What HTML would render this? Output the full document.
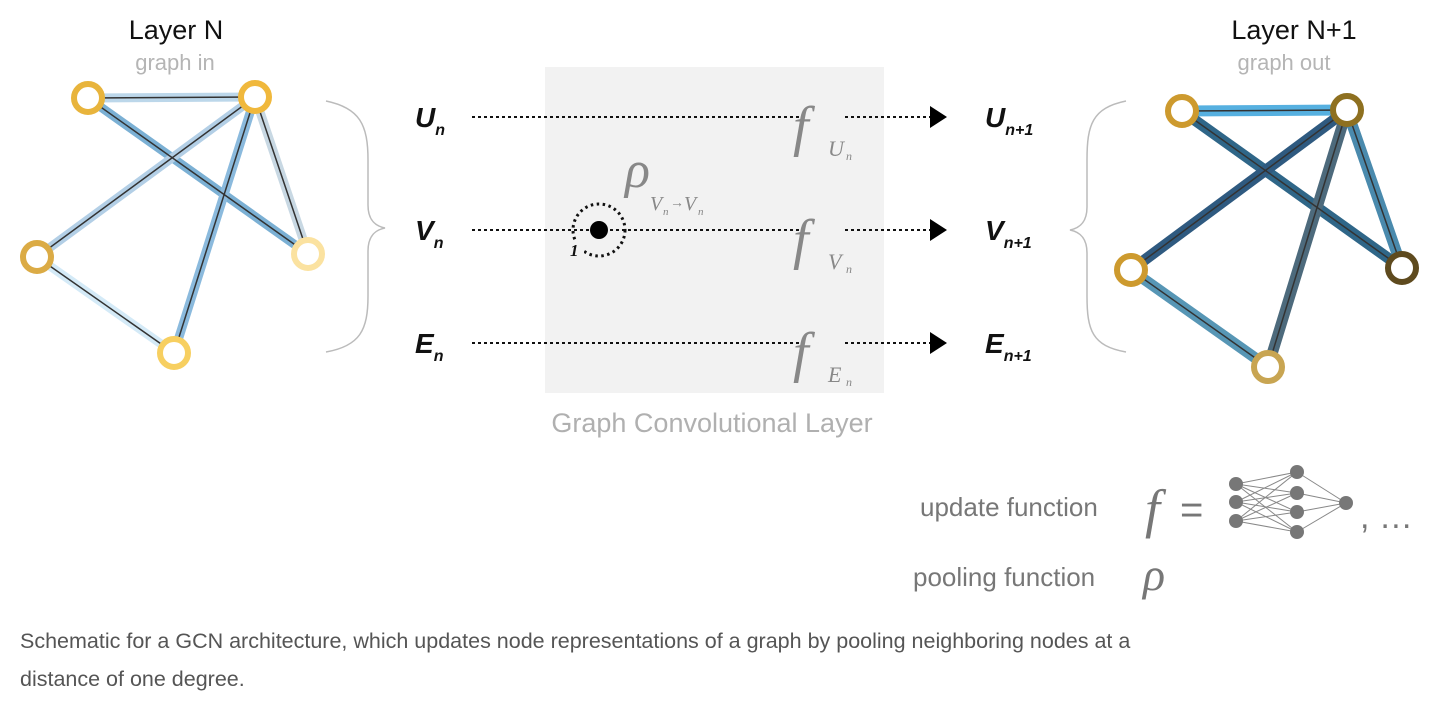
<!DOCTYPE html>
<html><head><meta charset="utf-8"><style>
body{margin:0;background:#fff;width:1448px;height:706px;overflow:hidden;font-family:"Liberation Sans",sans-serif}
</style></head><body>
<svg width="1448" height="706" viewBox="0 0 1448 706" xmlns="http://www.w3.org/2000/svg">
<rect x="545" y="67" width="339" height="326" fill="#f2f2f2"/>
<g font-family="Liberation Sans, sans-serif" text-anchor="middle">
<text x="176" y="39" font-size="27" fill="#111">Layer N</text>
<text x="175" y="70" font-size="22" fill="#b5b5b5">graph in</text>
<text x="1294" y="39" font-size="27" fill="#111">Layer N+1</text>
<text x="1284" y="70" font-size="22" fill="#b5b5b5">graph out</text>
<text x="712" y="432" font-size="27" fill="#b0b0b0">Graph Convolutional Layer</text>
</g>
<!-- left graph -->
<g stroke-linecap="round">
<line x1="88" y1="98" x2="255" y2="97" stroke="#bcd7ea" stroke-width="9"/>
<line x1="88" y1="98" x2="308" y2="254" stroke="#7bb0d4" stroke-width="9"/>
<line x1="255" y1="97" x2="37" y2="257" stroke="#b3cfe6" stroke-width="9"/>
<line x1="255" y1="97" x2="308" y2="254" stroke="#c8d8e3" stroke-width="9"/>
<line x1="255" y1="97" x2="174" y2="353" stroke="#8bbadd" stroke-width="9"/>
<line x1="37" y1="257" x2="174" y2="353" stroke="#d4eaf7" stroke-width="9"/>
<g stroke="#333" stroke-width="1.5">
<line x1="88" y1="98" x2="255" y2="97"/><line x1="88" y1="98" x2="308" y2="254"/>
<line x1="255" y1="97" x2="37" y2="257"/><line x1="255" y1="97" x2="308" y2="254"/>
<line x1="255" y1="97" x2="174" y2="353"/><line x1="37" y1="257" x2="174" y2="353"/>
</g>
</g>
<g fill="#fff" stroke-width="6">
<circle cx="88" cy="98" r="14" stroke="#e8b43c"/>
<circle cx="255" cy="97" r="14" stroke="#f0b83c"/>
<circle cx="37" cy="257" r="14" stroke="#dbab45"/>
<circle cx="308" cy="254" r="14" stroke="#fbe2a0"/>
<circle cx="174" cy="353" r="14" stroke="#f7cf60"/>
</g>
<!-- right graph -->
<g stroke-linecap="round">
<line x1="1182" y1="111" x2="1347" y2="110" stroke="#56b0e0" stroke-width="11"/>
<line x1="1182" y1="111" x2="1402" y2="268" stroke="#2f6688" stroke-width="11"/>
<line x1="1347" y1="110" x2="1131" y2="270" stroke="#2f5a80" stroke-width="11"/>
<line x1="1347" y1="110" x2="1402" y2="268" stroke="#4a8aad" stroke-width="11"/>
<line x1="1347" y1="110" x2="1268" y2="367" stroke="#4d6a7c" stroke-width="11"/>
<line x1="1131" y1="270" x2="1268" y2="367" stroke="#5796b5" stroke-width="11"/>
<g stroke="#333" stroke-width="1.5">
<line x1="1182" y1="111" x2="1347" y2="110"/><line x1="1182" y1="111" x2="1402" y2="268"/>
<line x1="1347" y1="110" x2="1131" y2="270"/><line x1="1347" y1="110" x2="1402" y2="268"/>
<line x1="1347" y1="110" x2="1268" y2="367"/><line x1="1131" y1="270" x2="1268" y2="367"/>
</g>
</g>
<g fill="#fff" stroke-width="6">
<circle cx="1182" cy="111" r="14" stroke="#cd9a2e"/>
<circle cx="1347" cy="110" r="14" stroke="#8e7020"/>
<circle cx="1131" cy="270" r="14" stroke="#cd9a2e"/>
<circle cx="1402" cy="268" r="14" stroke="#5e4a1e"/>
<circle cx="1268" cy="367" r="14" stroke="#c8a552"/>
</g>
<!-- braces -->
<path d="M326 101 C360 108 368 125 368 160 L368 205 C368 220 375 226 385 228 C375 230 368 236 368 251 L368 296 C368 330 360 346 326 352" fill="none" stroke="#bbb" stroke-width="1.5"/>
<path d="M1126 101 C1092 108 1087 125 1087 160 L1087 207 C1087 222 1080 228 1070 230 C1080 232 1087 238 1087 253 L1087 296 C1087 330 1092 346 1126 352" fill="none" stroke="#bbb" stroke-width="1.5"/>
<!-- labels -->
<g font-family="Liberation Sans, sans-serif" font-weight="bold" font-style="italic" fill="#111">
<text x="415" y="127" font-size="28">U<tspan font-size="16" dy="8">n</tspan></text>
<text x="415" y="240" font-size="28">V<tspan font-size="16" dy="8">n</tspan></text>
<text x="415" y="353" font-size="28">E<tspan font-size="16" dy="8">n</tspan></text>
<text x="985" y="127" font-size="28">U<tspan font-size="16" dy="8">n+1</tspan></text>
<text x="985" y="240" font-size="28">V<tspan font-size="16" dy="8">n+1</tspan></text>
<text x="985" y="353" font-size="28">E<tspan font-size="16" dy="8">n+1</tspan></text>
</g>
<!-- dotted lines -->
<g stroke="#111" stroke-width="2" stroke-dasharray="3,3">
<line x1="472" y1="117" x2="800" y2="117"/><line x1="845" y1="117" x2="930" y2="117"/>
<line x1="472" y1="230" x2="800" y2="230"/><line x1="845" y1="230" x2="930" y2="230"/>
<line x1="472" y1="343" x2="800" y2="343"/><line x1="845" y1="343" x2="930" y2="343"/>
</g>
<g fill="#000">
<polygon points="930,106 947,117 930,128"/>
<polygon points="930,219 947,230 930,241"/>
<polygon points="930,332 947,343 930,354"/>
<circle cx="599" cy="230" r="9"/>
</g>
<circle cx="599" cy="230" r="26" fill="none" stroke="#111" stroke-width="3" stroke-dasharray="2.5,3.5"/>
<rect x="568" y="240" width="16" height="20" fill="#f2f2f2"/>
<text x="570" y="256" font-family="Liberation Serif, serif" font-style="italic" font-weight="bold" font-size="17" fill="#111">1</text>
<g font-family="Liberation Serif, serif" font-style="italic" fill="#888">
<text x="793" y="145" font-size="56">f</text>
<text x="828" y="156" font-size="22">U</text><text x="846" y="160" font-size="12">n</text>
<text x="793" y="258" font-size="56">f</text>
<text x="828" y="269" font-size="22">V</text><text x="846" y="273" font-size="12">n</text>
<text x="793" y="371" font-size="56">f</text>
<text x="828" y="382" font-size="22">E</text><text x="846" y="386" font-size="12">n</text>
<text x="625" y="187" font-size="52">ρ</text>
<text x="650" y="210" font-size="20">V</text><text x="663" y="215" font-size="11">n</text>
<text x="670" y="207" font-size="14" font-style="normal">→</text>
<text x="684" y="210" font-size="20">V</text><text x="698" y="215" font-size="11">n</text>
</g>
<!-- legend -->
<text x="920" y="516" font-family="Liberation Sans, sans-serif" font-size="26" fill="#777">update function</text>
<text x="1145" y="527" font-family="Liberation Serif, serif" font-style="italic" font-size="54" fill="#777">f</text>
<text x="1180" y="523" font-family="Liberation Sans, sans-serif" font-size="40" fill="#777">=</text>
<g stroke="#888" stroke-width="1">
<g id="l1"><line x1="1236" y1="484" x2="1297" y2="472"/><line x1="1236" y1="484" x2="1297" y2="493"/><line x1="1236" y1="484" x2="1297" y2="512"/><line x1="1236" y1="484" x2="1297" y2="532"/>
<line x1="1236" y1="502" x2="1297" y2="472"/><line x1="1236" y1="502" x2="1297" y2="493"/><line x1="1236" y1="502" x2="1297" y2="512"/><line x1="1236" y1="502" x2="1297" y2="532"/>
<line x1="1236" y1="521" x2="1297" y2="472"/><line x1="1236" y1="521" x2="1297" y2="493"/><line x1="1236" y1="521" x2="1297" y2="512"/><line x1="1236" y1="521" x2="1297" y2="532"/></g>
<line x1="1297" y1="472" x2="1346" y2="503"/><line x1="1297" y1="493" x2="1346" y2="503"/><line x1="1297" y1="512" x2="1346" y2="503"/><line x1="1297" y1="532" x2="1346" y2="503"/>
</g>
<g fill="#777">
<circle cx="1236" cy="484" r="7"/><circle cx="1236" cy="502" r="7"/><circle cx="1236" cy="521" r="7"/>
<circle cx="1297" cy="472" r="7"/><circle cx="1297" cy="493" r="7"/><circle cx="1297" cy="512" r="7"/><circle cx="1297" cy="532" r="7"/>
<circle cx="1346" cy="503" r="7"/>
</g>
<text x="1360" y="528" font-family="Liberation Sans, sans-serif" font-size="34" fill="#777">, …</text>
<text x="913" y="586" font-family="Liberation Sans, sans-serif" font-size="26" fill="#777">pooling function</text>
<text x="1143" y="590" font-family="Liberation Serif, serif" font-style="italic" font-size="46" fill="#777">ρ</text>
<text x="20" y="648" font-family="Liberation Sans, sans-serif" font-size="21.5" fill="#555">Schematic for a GCN architecture, which updates node representations of a graph by pooling neighboring nodes at a</text>
<text x="20" y="686" font-family="Liberation Sans, sans-serif" font-size="21.5" fill="#555">distance of one degree.</text>
</svg>
</body></html>
